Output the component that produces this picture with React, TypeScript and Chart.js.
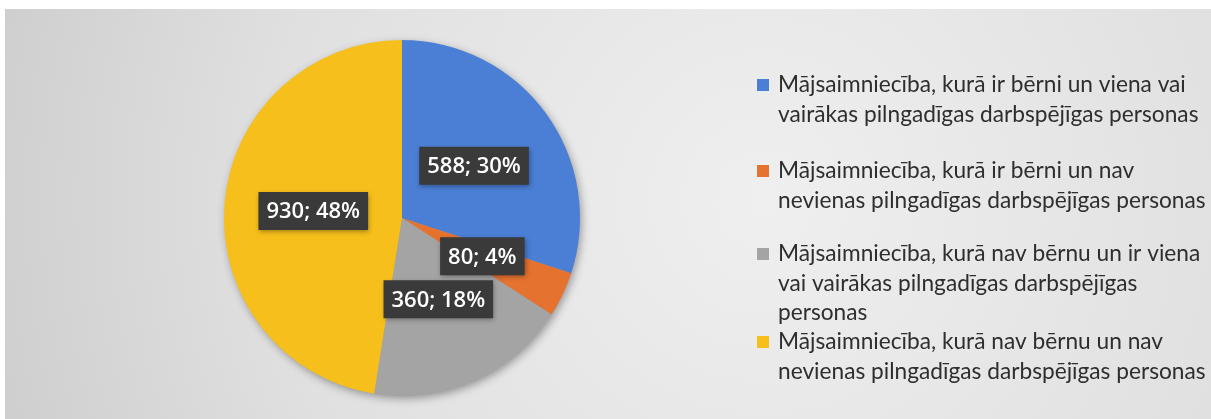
import React, { useEffect, useRef } from "react";
import { Chart, registerables } from "chart.js";

Chart.register(...registerables);

// ---- data ----
const categories: string[][] = [
  ["Mājsaimniecība, kurā ir bērni un viena vai", "vairākas pilngadīgas darbspējīgas personas"],
  ["Mājsaimniecība, kurā ir bērni un nav", "nevienas pilngadīgas darbspējīgas personas"],
  ["Mājsaimniecība, kurā nav bērnu un ir viena", "vai vairākas pilngadīgas darbspējīgas", "personas"],
  ["Mājsaimniecība, kurā nav bērnu un nav", "nevienas pilngadīgas darbspējīgas personas"],
];
const values: number[] = [588, 80, 360, 930];
const percentLabels: string[] = ["30%", "4%", "18%", "48%"];
const colors: string[] = ["#4B7FD5", "#E6722F", "#A4A4A4", "#F6BF1B"];

// ---- layout constants ----
const W = 1206;
const H = 410;
const LEGEND_MARK_X = 752;
const LEGEND_TEXT_X = 773;
const LEGEND_MAX_W = 428;
const LEGEND_ITEM_Y = [76, 162, 245, 333];
const LEGEND_LINE_H = 29.5;
const FONT = "'Open Sans', 'Noto Sans', sans-serif";
const LEGEND_FONT = "Lato, 'Open Sans', sans-serif";

const backgroundPlugin = {
  id: "panelBackground",
  beforeDraw(chart: any) {
    const { ctx } = chart;
    ctx.save();
    const g = ctx.createRadialGradient(760, 190, 0, 760, 190, 900);
    g.addColorStop(0, "#efefef");
    g.addColorStop(0.55, "#e0e0e0");
    g.addColorStop(1, "#c8c8c8");
    ctx.fillStyle = g;
    ctx.fillRect(0, 0, W, H);
    ctx.restore();
  },
  beforeDatasetsDraw(chart: any) {
    const meta = chart.getDatasetMeta(0);
    const arc = meta.data[0];
    if (!arc) return;
    const { ctx } = chart;
    ctx.save();
    ctx.shadowColor = "rgba(0,0,0,0.4)";
    ctx.shadowBlur = 10;
    ctx.shadowOffsetX = 2;
    ctx.shadowOffsetY = 3;
    ctx.fillStyle = "#999";
    ctx.beginPath();
    ctx.arc(arc.x, arc.y, arc.outerRadius - 1, 0, Math.PI * 2);
    ctx.fill();
    ctx.restore();
  },
};

const labelPlugin = {
  id: "sliceLabels",
  afterDatasetsDraw(chart: any) {
    const { ctx } = chart;
    const meta = chart.getDatasetMeta(0);
    ctx.save();
    ctx.font = `600 22px ${FONT}`;
    ctx.textAlign = "center";
    ctx.textBaseline = "middle";
    meta.data.forEach((arc: any, i: number) => {
      const { x, y } = arc.tooltipPosition();
      const text = `${values[i]}; ${percentLabels[i]}`;
      const tw = ctx.measureText(text).width;
      const bw = tw + 16;
      const bh = 38;
      ctx.save();
      ctx.shadowColor = "rgba(0,0,0,0.35)";
      ctx.shadowBlur = 5;
      ctx.shadowOffsetX = 1;
      ctx.shadowOffsetY = 2;
      ctx.fillStyle = "#3a3a3a";
      ctx.fillRect(x - bw / 2, y - bh / 2, bw, bh);
      ctx.restore();
      ctx.fillStyle = "#ffffff";
      ctx.fillText(text, x, y + 1);
    });
    ctx.restore();
  },
};

const legendPlugin = {
  id: "wrappedLegend",
  afterDraw(chart: any) {
    const { ctx } = chart;
    ctx.save();
    // choose a font size so that the widest legend line spans LEGEND_MAX_W
    ctx.font = `20px ${LEGEND_FONT}`;
    let maxW = 0;
    categories.forEach((lines) => lines.forEach((ln) => { maxW = Math.max(maxW, ctx.measureText(ln).width); }));
    const size = Math.min(26, (20 * LEGEND_MAX_W) / maxW);
    ctx.font = `${size.toFixed(1)}px ${LEGEND_FONT}`;
    ctx.textAlign = "left";
    ctx.textBaseline = "middle";
    categories.forEach((lines, i) => {
      const y0 = LEGEND_ITEM_Y[i];
      ctx.fillStyle = colors[i];
      ctx.fillRect(LEGEND_MARK_X, y0 - 6, 12, 12);
      ctx.fillStyle = "#2e2e2e";
      lines.forEach((ln, j) => {
        ctx.fillText(ln, LEGEND_TEXT_X, y0 + j * LEGEND_LINE_H);
      });
    });
    ctx.restore();
  },
};

export default function App() {
  const ref = useRef<HTMLCanvasElement>(null);
  useEffect(() => {
    if (!ref.current) return;
    const chart = new Chart(ref.current, {
      type: "pie",
      data: {
        labels: categories,
        datasets: [
          {
            data: values,
            backgroundColor: colors,
            borderWidth: 0,
          },
        ],
      },
      options: {
        responsive: false,
        animation: false,
        layout: { padding: { left: 219, top: 31, right: 631, bottom: 23 } },
        plugins: {
          legend: { display: false },
          tooltip: { enabled: false },
        },
      },
      plugins: [backgroundPlugin, labelPlugin, legendPlugin],
    });
    return () => chart.destroy();
  }, []);
  return (
    <div style={{ position: "fixed", left: 5, top: 9, width: W, height: H }}>
      <canvas ref={ref} width={W} height={H} style={{ width: W, height: H, display: "block" }} />
    </div>
  );
}
